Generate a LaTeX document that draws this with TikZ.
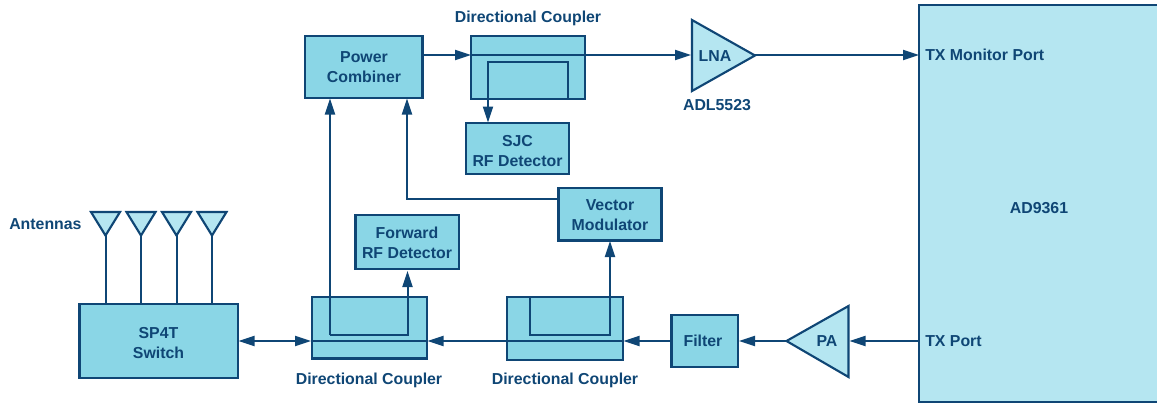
\documentclass[tikz,border=0pt]{standalone}
\usepackage{fontspec}
\setmainfont{Liberation Sans}
\usetikzlibrary{arrows.meta}
\definecolor{navy}{HTML}{0F4675}
\definecolor{boxc}{HTML}{8AD6E6}
\definecolor{palec}{HTML}{B5E6F1}
\tikzset{
  x=0.75pt,y=-0.75pt,
  wire/.style={draw=navy,line width=1.5pt},
  sig/.style={wire,-{Triangle[length=12pt,width=7.5pt]}},
  sigb/.style={wire,{Triangle[length=12pt,width=7.5pt]}-{Triangle[length=12pt,width=7.5pt]}},
  fbox/.style={draw=navy,line width=1.6pt,fill=boxc},
  pale/.style={draw=navy,line width=1.6pt,fill=palec,line join=miter},
  txt/.style={text=navy,font=\bfseries\fontsize{11.9pt}{15pt}\selectfont,align=center,inner sep=0pt},
}
\begin{document}
\begin{tikzpicture}
\useasboundingbox (0,0) rectangle (1157,407);
% main IC
\path[pale] (919,5) rectangle (1170,402);
\node[txt] (ad) at (1039,208) {AD9361};
\node[txt,anchor=west] (mon) at (925,55) {TX Monitor Port};
\node[txt,anchor=west] (tx) at (925,341) {TX Port};
\coordinate (icm) at (919,55);
\coordinate (ict) at (919,341);
% blocks
\path[fbox] (305,36) rectangle (422.5,98);
\node[txt] (pc) at (364,67) {Power\\Combiner};
\coordinate (pcR) at (422.5,55);
\coordinate (pcA) at (330,98.5);
\coordinate (pcB) at (407,98.5);
\path[fbox] (471,36) rectangle (585,99);
\node[txt] (dc1) at (528,18.5) {Directional Coupler};
\path[fbox] (466,123) rectangle (569,174);
\node[txt] (sjc) at (517.5,151) {SJC\\RF Detector};
\coordinate (sjcT) at (488,122.5);
\path[fbox] (355.5,215) rectangle (459,269);
\node[txt] (fw) at (407,243) {Forward\\RF Detector};
\coordinate (fwB) at (407.5,271);
\path[fbox] (558.5,188) rectangle (661.5,240.5);
\node[txt] (vm) at (610,215) {Vector\\Modulator};
\coordinate (vmB) at (610,241);
\coordinate (vmL) at (558.5,199);
\path[fbox] (79.5,304) rectangle (238,378);
\node[txt] (sw) at (158.5,343) {SP4T\\Switch};
\coordinate (swR) at (238.5,341);
\path[fbox] (312,297) rectangle (427,358.5);
\node[txt] (dc2) at (369,380) {Directional Coupler};
\path[fbox] (507,297) rectangle (623,360);
\node[txt] (dc3) at (565,380) {Directional Coupler};
\path[fbox] (671.5,315) rectangle (738,367);
\node[txt] (fl) at (703,341) {Filter};
\coordinate (flL) at (671.5,341);
\coordinate (flR) at (739,341);
% amplifiers
\path[pale] (692,20) -- (755,55.5) -- (692,91) -- cycle;
\node[txt] (lna) at (715,56) {LNA};
\coordinate (lnaL) at (691,55);
\coordinate (lnaR) at (755,55);
\node[txt] (adl) at (717,105) {ADL5523};
\path[pale] (848.5,306) -- (786.5,341) -- (848.5,377) -- cycle;
\node[txt] (pa) at (827,341) {PA};
\coordinate (paR) at (849.5,341);
\coordinate (paL) at (786.5,341);
% antennas
\node[txt,anchor=west] (ant) at (9,224) {Antennas};
\foreach \n/\xx in {1/105.5,2/141,3/176.5,4/212}{
  \draw[wire] (\xx,235) -- (\xx,304);
  \path[pale] ({\xx-14.5},212) -- ({\xx+14.5},212) -- (\xx,235.5) -- cycle;
}
% connectors
\coordinate (dc1L) at (471,55);
\coordinate (dc1R) at (585,55);
\draw[sig] (pcR) -- (dc1L);
\draw[wire] (dc1L) -- (dc1R);
\draw[sig] (dc1R) -- (lnaL);
\draw[sig] (lnaR) -- (icm);
\draw[wire] (568,99) -- (568,62) -- (488,62) -- (488,99);
\draw[sig] (488,99) -- (sjcT);
\draw[sig] (330,335) -- (pcA);
\draw[wire] (330,335) -- (407.5,335) -- (407.5,297);
\draw[sig] (407.5,297) -- (fwB);
\draw[sig] (vmL) -| (pcB);
\draw[wire] (530,297) -- (530,335) -- (610,335) -- (610,297);
\draw[sig] (610,297) -- (vmB);
\draw[sig] (ict) -- (paR);
\draw[sig] (paL) -- (flR);
\draw[sig] (flL) -- (623.5,341);
\draw[wire] (623,341) -- (507,341);
\draw[sig] (507,341) -- (427.5,341);
\draw[wire] (427,341) -- (312,341);
\draw[sigb] (swR) -- (311,341);
\end{tikzpicture}
\end{document}
